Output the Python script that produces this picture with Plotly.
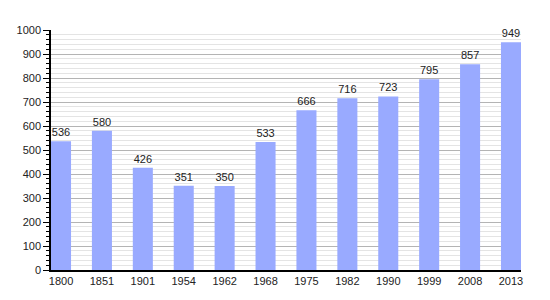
import plotly.graph_objects as go

years = ["1800", "1851", "1901", "1954", "1962", "1968", "1975", "1982", "1990", "1999", "2008", "2013"]
population = [536, 580, 426, 351, 350, 533, 666, 716, 723, 795, 857, 949]

fig = go.Figure()
fig.add_trace(go.Bar(
    x=list(range(len(years))),
    y=population,
    marker=dict(color="#99aaff", line=dict(width=0)),
    width=0.49,
    text=[str(v) for v in population],
    textposition="outside",
    textfont=dict(family="Liberation Sans, Arial", size=11, color="#222"),
    cliponaxis=False,
))

fig.update_layout(
    width=550, height=300,
    margin=dict(l=51, r=29, t=30, b=30),
    paper_bgcolor="white", plot_bgcolor="white",
    showlegend=False,
    font=dict(family="Liberation Sans, Arial", size=11, color="#222"),
    xaxis=dict(
        tickmode="array",
        tickvals=list(range(len(years))),
        ticktext=years,
        range=[-0.245, len(years) - 1 + 0.245],
        showgrid=False,
        showline=True, linecolor="black", linewidth=1.5,
        ticks="", zeroline=False,
        tickfont=dict(size=11),
    ),
    yaxis=dict(
        range=[0, 1000],
        dtick=100,
        showgrid=True, gridcolor="#b4b4b4", gridwidth=1,
        showline=True, linecolor="black", linewidth=1.5,
        ticks="outside", ticklen=6, tickcolor="black", tickwidth=1,
        zeroline=False,
        tickfont=dict(size=11),
        minor=dict(dtick=20, showgrid=True, gridcolor="#e4e4e4", gridwidth=1,
                   ticks="outside", ticklen=3, tickcolor="black"),
    ),
)

fig.write_html("out.html")
